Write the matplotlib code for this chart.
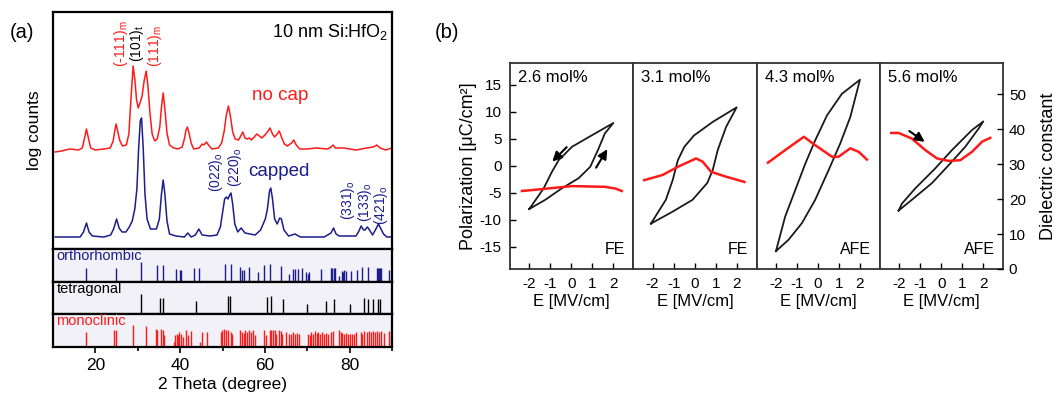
import matplotlib.pyplot as plt

plt.rcParams['font.family'] = ['Liberation Sans', 'DejaVu Sans']
plt.rcParams['mathtext.fontset'] = 'custom'
plt.rcParams['mathtext.rm'] = 'Liberation Sans'
plt.rcParams['mathtext.it'] = 'Liberation Sans:italic'
plt.rcParams['axes.unicode_minus'] = False

RED = '#ff1a1a'
NAVY = '#1c1c8c'

# ---- panel (a): XRD traces (2 theta, arbitrary log counts) ----
theta_nocap = [10.5, 12.0, 14.0, 16.0, 16.9, 17.4, 17.9, 18.4, 18.9, 20.0, 22.0, 23.5, 24.2, 24.6,
               24.9, 25.3, 25.8, 26.4, 27.3, 27.9, 28.4, 28.9, 29.3, 29.7, 30.1, 30.6, 31.0, 31.5,
               32.0, 32.4, 32.9, 33.4, 34.0, 34.6, 35.2, 35.6, 36.0, 36.4, 36.9, 37.5, 38.5, 39.5,
               40.5, 41.0, 41.4, 41.7, 42.1, 42.6, 43.2, 44.5, 45.2, 45.6, 46.2, 46.7, 47.5, 49.0,
               49.8, 50.4, 50.9, 51.4, 51.9, 52.4, 53.0, 53.8, 54.3, 54.8, 55.3, 55.8, 56.3, 56.8,
               57.5, 58.1, 58.7, 59.3, 60.0, 60.6, 61.2, 61.8, 62.3, 62.9, 63.4, 64.0, 64.6, 65.3,
               66.3, 66.8, 67.4, 68.2, 70.0, 72.0, 74.8, 75.6, 76.1, 76.6, 78.7, 81.5, 84.0, 85.6,
               86.4, 87.2, 88.5, 90.0]
counts_nocap = [97, 98, 100, 99, 101, 110, 120, 110, 101, 99, 100, 101, 108, 119,
                125, 117, 108, 103, 104, 115, 150, 183, 170, 150, 141, 147, 152, 168,
                178, 163, 135, 115, 108, 110, 122, 142, 156, 140, 116, 104, 101, 100,
                102, 110, 119, 122, 116, 106, 100, 101, 105, 104, 107, 104, 100, 101,
                106, 118, 134, 143, 132, 117, 110, 109, 113, 117, 111, 110, 111, 109,
                112, 115, 113, 111, 114, 117, 121, 115, 112, 115, 118, 111, 105, 103,
                106, 109, 104, 100, 100, 101, 100, 102, 104, 101, 101, 99, 101, 102,
                104, 101, 99, 101]

theta_capped = [10.5, 14.0, 16.4, 17.2, 17.9, 18.5, 19.3, 22.0, 23.6, 24.3, 25.0, 25.6, 26.3,
                27.2, 28.0, 28.7, 29.3, 29.8, 30.2, 30.6, 30.9, 31.3, 31.7, 32.2, 33.0, 34.4,
                35.1, 35.6, 36.0, 36.4, 36.9, 37.5, 39.0, 41.0, 41.8, 42.6, 43.6, 44.4, 45.2,
                47.0, 48.7, 49.5, 50.0, 50.5, 50.9, 51.3, 51.7, 52.0, 52.4, 52.9, 53.6, 54.4,
                55.3, 57.7, 59.0, 59.6, 60.1, 60.6, 61.1, 61.4, 61.8, 62.3, 62.9, 63.5, 63.9,
                64.5, 65.6, 67.1, 68.4, 74.0, 75.6, 76.2, 76.8, 77.5, 81.5, 82.2, 82.7, 83.3,
                83.6, 84.2, 84.7, 85.4, 86.2, 86.8, 87.4, 88.0, 88.8, 90.0]
counts_capped = [12, 12, 12, 17, 26, 17, 13, 12, 14, 20, 30, 21, 17,
                 17, 22, 28, 40, 60, 100, 128, 131, 100, 55, 30, 20, 20,
                 30, 55, 69, 55, 28, 15, 13, 12, 16, 12, 14, 20, 14,
                 13, 14, 22, 36, 50, 52, 50, 54, 56, 45, 25, 17, 21,
                 16, 14, 19, 25, 30, 40, 58, 61, 50, 30, 25, 31, 30,
                 19, 13, 15, 12, 12, 16, 21, 15, 13, 13, 18, 23, 19,
                 19, 22, 19, 14, 20, 25, 20, 15, 12, 12]

# reference patterns: positions and relative intensities
ortho_pos = [17.9, 24.8, 30.7, 34.5, 36.0, 39.0, 40.0, 40.2, 43.3, 44.4, 50.7, 51.9, 54.2, 54.7,
             55.0, 56.3, 58.3, 59.7, 61.3, 63.9, 65.8, 66.7, 67.2, 67.8, 68.8, 69.8, 70.2, 70.5,
             73.2, 75.7, 75.9, 76.2, 76.6, 77.4, 78.2, 78.5, 78.7, 79.1, 80.3, 81.7, 82.9, 84.3,
             86.4, 86.7, 86.9, 87.2, 87.5, 89.4]
ortho_int = [0.41, 0.41, 0.61, 0.51, 0.51, 0.38, 0.34, 0.34, 0.43, 0.43, 0.54, 0.54, 0.45, 0.34,
             0.34, 0.45, 0.30, 0.52, 0.54, 0.48, 0.24, 0.38, 0.38, 0.38, 0.41, 0.30, 0.24, 0.30,
             0.38, 0.41, 0.41, 0.41, 0.41, 0.16, 0.32, 0.28, 0.34, 0.32, 0.32, 0.34, 0.45, 0.45,
             0.41, 0.41, 0.41, 0.41, 0.41, 0.34]

tetra_pos = [30.7, 35.2, 36.0, 43.8, 51.2, 51.8, 60.5, 61.4, 64.2, 70.0, 74.4, 76.2, 80.1,
             83.5, 84.3, 85.5, 86.7, 87.2]
tetra_int = [0.61, 0.49, 0.49, 0.40, 0.56, 0.54, 0.51, 0.54, 0.47, 0.32, 0.40, 0.47, 0.30,
             0.49, 0.47, 0.45, 0.45, 0.45]

mono_pos = [17.9, 24.5, 24.8, 28.9, 31.9, 34.2, 34.6, 35.5, 35.9, 36.3, 38.6, 38.9, 39.2, 39.5,
            39.8, 40.2, 40.6, 41.4, 41.8, 42.5, 44.8, 45.2, 46.3, 49.6, 49.9, 50.4, 50.9, 51.3,
            51.9, 52.3, 54.2, 54.6, 55.0, 55.4, 55.8, 56.3, 56.7, 57.2, 57.7, 59.7, 60.3, 61.2,
            61.5, 61.9, 62.3, 62.7, 63.3, 63.7, 64.1, 65.1, 65.6, 66.1, 66.6, 67.0, 67.5, 68.0,
            70.2, 70.6, 71.0, 71.4, 71.8, 72.2, 72.6, 73.0, 73.5, 74.0, 74.5, 75.0, 75.5, 76.1,
            77.5, 77.9, 78.3, 78.7, 79.2, 79.7, 80.1, 80.6, 81.1, 81.6, 82.6, 83.0, 83.5, 84.0,
            84.5, 85.0, 85.5, 86.0, 86.5, 87.0, 87.5, 88.0, 89.4, 89.8]
mono_int = [0.46, 0.52, 0.52, 0.65, 0.62, 0.55, 0.50, 0.55, 0.50, 0.35, 0.15, 0.35, 0.40, 0.35,
            0.45, 0.40, 0.30, 0.50, 0.35, 0.48, 0.15, 0.45, 0.45, 0.45, 0.50, 0.55, 0.50, 0.52,
            0.45, 0.40, 0.50, 0.45, 0.42, 0.50, 0.45, 0.50, 0.45, 0.50, 0.35, 0.50, 0.35, 0.52,
            0.52, 0.50, 0.52, 0.40, 0.50, 0.48, 0.40, 0.45, 0.40, 0.40, 0.45, 0.38, 0.42, 0.38,
            0.40, 0.35, 0.45, 0.38, 0.48, 0.42, 0.45, 0.38, 0.45, 0.40, 0.42, 0.38, 0.45, 0.48,
            0.50, 0.45, 0.42, 0.40, 0.42, 0.40, 0.38, 0.40, 0.38, 0.45, 0.45, 0.40, 0.48, 0.45,
            0.48, 0.45, 0.48, 0.45, 0.48, 0.45, 0.48, 0.42, 0.48, 0.48]

# ---- panel (b): P-E loops and dielectric constant vs field ----
compositions = ['2.6 mol%', '3.1 mol%', '4.3 mol%', '5.6 mol%']
phases = ['FE', 'FE', 'AFE', 'AFE']

loop_E = [
    [-2.0, -1.24, -0.46, 0.35, 0.9, 1.3, 1.6, 2.0, 0.83, 0.03, -0.6, -0.92, -1.32, -2.0],
    [-2.08, -1.05, -0.1, 0.6, 0.86, 1.1, 1.5, 2.0, 0.86, -0.03, -0.49, -0.8, -1.04, -1.37, -2.08],
    [-2.0, -1.4, -0.76, -0.13, 0.51, 1.06, 1.54, 2.0, 1.14, 0.43, -0.13, -0.6, -1.08, -1.56, -2.0],
    [-2.03, -1.4, -0.44, 0.35, 1.14, 1.78, 2.0, 1.46, 0.51, -0.29, -1.24, -1.87, -2.03],
]
loop_P = [
    [-8.0, -6.3, -4.2, -2.3, -0.2, 3.2, 6.0, 7.9, 5.3, 3.5, 1.05, -1.1, -4.2, -8.0],
    [-10.7, -8.5, -6.3, -3.2, -0.8, 2.9, 7.2, 10.8, 8.1, 5.6, 3.5, 1.0, -2.6, -6.3, -10.7],
    [-15.8, -13.7, -10.6, -6.3, -0.8, 4.1, 9.0, 15.9, 13.3, 9.3, 4.7, 0.4, -4.5, -9.4, -15.8],
    [-8.3, -6.3, -3.2, 0.1, 3.5, 6.9, 8.2, 6.6, 2.9, -0.5, -4.2, -7.0, -8.3],
]
eps_E = [
    [-2.35, -1.48, 0.03, 1.6, 2.1, 2.4],
    [-2.4, -1.52, -0.74, 0.07, 0.38, 0.78, 1.49, 2.37],
    [-2.38, -1.56, -0.67, -0.13, 0.67, 0.98, 1.54, 1.94, 2.33],
    [-2.38, -2.03, -1.4, -0.76, -0.2, 0.35, 0.9, 1.46, 1.94, 2.33],
]
eps_val = [
    [22.3, 22.8, 23.7, 23.5, 23.0, 22.3],
    [25.4, 26.9, 29.4, 31.6, 30.7, 27.8, 26.4, 24.9],
    [30.4, 34.0, 37.8, 35.4, 32.1, 32.1, 34.5, 33.5, 31.3],
    [38.9, 38.9, 37.3, 34.0, 31.6, 30.9, 31.1, 33.5, 36.4, 37.5],
]

W, H = 1057, 394
fig = plt.figure(figsize=(W / 100, H / 100), dpi=100)


def rect(x0, y0, x1, y1):
    return [x0 / W, 1 - y1 / H, (x1 - x0) / W, (y1 - y0) / H]


# ---------------- panel (a) ----------------
ax = fig.add_axes(rect(53, 12, 392, 249))
ax.plot(theta_nocap, counts_nocap, color=RED, lw=1.1)
ax.plot(theta_capped, counts_capped, color=NAVY, lw=1.1)
ax.set_xlim(10, 90)
ax.set_ylim(0, 237)
ax.set_xticks([])
ax.set_yticks([])
for s in ax.spines.values():
    s.set_linewidth(1.6)
ax.set_ylabel('log counts', fontsize=12.5, labelpad=8)
ax.text(89, 217, '10 nm Si:HfO$_2$', ha='right', va='center', fontsize=13)
ax.text(63.5, 154, 'no cap', color=RED, ha='center', va='center', fontsize=13.5)
ax.text(63.3, 77, 'capped', color=NAVY, ha='center', va='center', fontsize=13.5)

peak_labels = [(26.1, 182, r'(-111)$_\mathrm{m}$', RED), (29.9, 187, r'(101)$_\mathrm{t}$', 'black'),
               (34.0, 182, r'(111)$_\mathrm{m}$', RED), (48.5, 57, r'(022)$_\mathrm{o}$', NAVY),
               (52.9, 62, r'(220)$_\mathrm{o}$', NAVY), (79.7, 29, r'(331)$_\mathrm{o}$', NAVY),
               (83.6, 27, r'(133)$_\mathrm{o}$', NAVY), (87.5, 24, r'(421)$_\mathrm{o}$', NAVY)]
for x, y, t, c in peak_labels:
    ax.text(x, y, t, color=c, rotation=90, ha='center', va='bottom', fontsize=10)

refs = [(249, 281.5, ortho_pos, ortho_int, NAVY, 'orthorhombic'),
        (281.5, 314, tetra_pos, tetra_int, 'black', 'tetragonal'),
        (314, 346.5, mono_pos, mono_int, RED, 'monoclinic')]
for i, (y0, y1, pos, inten, c, name) in enumerate(refs):
    r = fig.add_axes(rect(53, y0, 392, y1))
    r.set_facecolor('#f1f1f7')
    r.vlines(pos, 0, inten, color=c, lw=1.0)
    r.set_xlim(10, 90)
    r.set_ylim(0, 1)
    r.set_yticks([])
    for s in r.spines.values():
        s.set_linewidth(1.6)
    r.text(0.01, 0.78, name, color=c, transform=r.transAxes, fontsize=10.5, va='center')
    if i < 2:
        r.set_xticks([])
    else:
        r.set_xticks([20, 40, 60, 80])
        r.set_xticks([30, 50, 70, 90], minor=True)
        r.tick_params(axis='x', direction='out', length=4, width=1.2, labelsize=12.5, pad=4)
        r.tick_params(axis='x', which='minor', direction='out', length=3, width=1.2)
        r.set_xlabel('2 Theta (degree)', fontsize=12.5, labelpad=3)

fig.text(22 / W, 1 - 32 / H, '(a)', fontsize=14.5, ha='center', va='center')
fig.text(447 / W, 1 - 32 / H, '(b)', fontsize=14.5, ha='center', va='center')

# ---------------- panel (b) ----------------
edges = [510, 633.3, 756.6, 879.9, 1003.3]
arrow = dict(arrowstyle='-|>', color='black', lw=1.5, mutation_scale=14)
for k in range(4):
    a = fig.add_axes(rect(edges[k], 63, edges[k + 1], 269))
    a.plot(loop_E[k], loop_P[k], color='#1a1a1a', lw=1.3)
    a.set_xlim(-2.92, 2.95)
    a.set_ylim(-19.1, 19.0)
    a.set_xticks([-2, -1, 0, 1, 2])
    a.tick_params(axis='x', direction='in', length=4, width=1.0, labelsize=11, pad=6)
    a.set_xlabel('E [MV/cm]', fontsize=12, labelpad=2)
    for s in a.spines.values():
        s.set_linewidth(1.3)
        s.set_color('#333333')
    if k == 0:
        a.set_yticks([-15, -10, -5, 0, 5, 10, 15])
        a.tick_params(axis='y', direction='in', length=4, width=1.0, labelsize=11, pad=6)
        a.set_ylabel('Polarization [μC/cm²]', fontsize=13, labelpad=2)
    else:
        a.set_yticks([])
    t = a.twinx()
    t.plot(eps_E[k], eps_val[k], color=RED, lw=1.8)
    t.set_ylim(0, 58.9)
    for s in t.spines.values():
        s.set_visible(False)
    if k == 3:
        t.set_yticks([0, 10, 20, 30, 40, 50])
        t.tick_params(axis='y', direction='in', length=4, width=1.0, labelsize=11, pad=4)
        t.set_ylabel('Dielectric constant', fontsize=13, labelpad=10)
    else:
        t.set_yticks([])
    a.text(0.065, 0.93, compositions[k], transform=a.transAxes, fontsize=12, va='center')
    a.text(0.93, 0.095, phases[k], transform=a.transAxes, fontsize=11.5, ha='right', va='center')
    if k == 0:
        a.annotate('', xy=(-1.0, 0.4), xytext=(-0.13, 3.8), arrowprops=arrow)
        a.annotate('', xy=(1.78, 3.5), xytext=(1.11, -0.8), arrowprops=arrow)
    if k == 3:
        t.annotate('', xy=(-0.68, 35.9), xytext=(-1.63, 39.9), arrowprops=arrow)

fig.savefig('out.png', dpi=100)
